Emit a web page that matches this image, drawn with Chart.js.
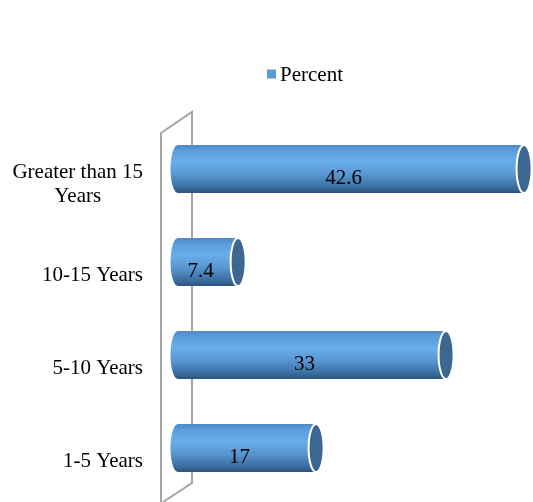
<!DOCTYPE html>
<html>
<head>
<meta charset="utf-8">
<script src="https://cdn.jsdelivr.net/npm/chart.js@4.4.1/dist/chart.umd.min.js"></script>
<style>
  html, body { margin: 0; padding: 0; background: #ffffff; }
  #wrap { width: 533px; height: 502px; position: relative; }
</style>
</head>
<body>
<div id="wrap"><canvas id="chart" width="533" height="502"></canvas></div>
<script>
// Experience bands and their share in percent
const categories = [['Greater than 15', 'Years'], '10-15 Years', '5-10 Years', '1-5 Years'];
const percent = [42.6, 7.4, 33, 17];
const seriesName = 'Percent';

const FONT = "'Liberation Serif', 'Times New Roman', serif";
const FONT_SIZE = 21;
const LEGEND_COLOR = '#5B9BD5';

// Grey 3D wall drawn along the category axis
const wallPlugin = {
  id: 'wall',
  beforeDatasetsDraw(chart) {
    const { ctx, chartArea: a } = chart;
    const back = a.left + 14, front = a.left - 17;
    ctx.save();
    ctx.strokeStyle = '#A5A5A5';
    ctx.lineWidth = 2;
    ctx.beginPath();
    ctx.moveTo(front, chart.height + 2);
    ctx.lineTo(front, a.top + 10.5);
    ctx.lineTo(back, a.top - 10.5);
    ctx.lineTo(back, a.bottom - 11.5);
    ctx.lineTo(front + 2, a.bottom + 7.5);
    ctx.stroke();
    ctx.restore();
  }
};

// Bars rendered as horizontal cylinders
const cylinderPlugin = {
  id: 'cylinders',
  afterDatasetsDraw(chart) {
    const { ctx } = chart;
    const meta = chart.getDatasetMeta(0);
    const rx = 7.5;
    meta.data.forEach((bar, i) => {
      const x0 = bar.base, x1 = bar.x;
      const h = bar.height, top = bar.y - h / 2, bot = bar.y + h / 2, cy = bar.y;
      const ry = h / 2;
      const g = ctx.createLinearGradient(0, top, 0, bot);
      g.addColorStop(0, '#4D89C6');
      g.addColorStop(0.12, '#5C9DDB');
      g.addColorStop(0.35, '#69ADEB');
      g.addColorStop(0.6, '#5A98D4');
      g.addColorStop(0.85, '#3F73A6');
      g.addColorStop(1, '#2B5380');
      ctx.save();
      // body with rounded left end
      ctx.beginPath();
      ctx.moveTo(x1, top);
      ctx.lineTo(x0, top);
      ctx.ellipse(x0, cy, rx, ry, 0, -Math.PI / 2, Math.PI / 2, true);
      ctx.lineTo(x1, bot);
      ctx.closePath();
      ctx.fillStyle = g;
      ctx.fill();
      // end face
      ctx.beginPath();
      ctx.ellipse(x1, cy, rx, ry, 0, 0, Math.PI * 2);
      ctx.fillStyle = '#3B6790';
      ctx.fill();
      ctx.strokeStyle = '#FFFFFF';
      ctx.lineWidth = 2;
      ctx.stroke();
      // value label
      ctx.fillStyle = '#000000';
      ctx.font = FONT_SIZE + 'px ' + FONT;
      ctx.textAlign = 'center';
      ctx.textBaseline = 'middle';
      const v = percent[i];
      ctx.fillText(String(v), ((x0 - rx) + (x1 - rx)) / 2, cy + 9);
      ctx.restore();
    });
  }
};

// Category labels and legend
const labelPlugin = {
  id: 'labels',
  afterDraw(chart) {
    const { ctx } = chart;
    const yScale = chart.scales.y;
    const right = 143;
    const lineH = 24;
    ctx.save();
    ctx.fillStyle = '#000000';
    ctx.font = FONT_SIZE + 'px ' + FONT;
    ctx.textBaseline = 'middle';
    categories.forEach((c, i) => {
      const lines = Array.isArray(c) ? c : [c];
      const cy = yScale.getPixelForValue(i) + 13 + (lines.length - 1) * 2;
      const widest = Math.max(...lines.map(l => ctx.measureText(l).width));
      const cx = right - widest / 2;
      ctx.textAlign = 'center';
      lines.forEach((l, k) => {
        ctx.fillText(l, cx, cy + (k - (lines.length - 1) / 2) * lineH);
      });
    });
    // legend
    const lx = 267, ly = 74;
    ctx.fillStyle = LEGEND_COLOR;
    ctx.fillRect(lx, ly - 4.5, 9, 9);
    ctx.fillStyle = '#000000';
    ctx.textAlign = 'left';
    ctx.fillText(seriesName, lx + 13, ly + 1);
    ctx.restore();
  }
};

new Chart(document.getElementById('chart'), {
  type: 'bar',
  data: {
    labels: categories,
    datasets: [{
      label: seriesName,
      data: percent,
      backgroundColor: 'rgba(0,0,0,0)',
      borderWidth: 0,
      categoryPercentage: 1,
      barPercentage: 0.516
    }]
  },
  options: {
    indexAxis: 'y',
    responsive: false,
    animation: false,
    layout: { padding: { left: 178, right: 0, top: 122.5, bottom: 7.5 } },
    plugins: {
      legend: { display: false },
      tooltip: { enabled: false }
    },
    scales: {
      x: { display: false, min: 0, max: 43.7 },
      y: { display: false }
    }
  },
  plugins: [wallPlugin, cylinderPlugin, labelPlugin]
});
</script>
</body>
</html>
